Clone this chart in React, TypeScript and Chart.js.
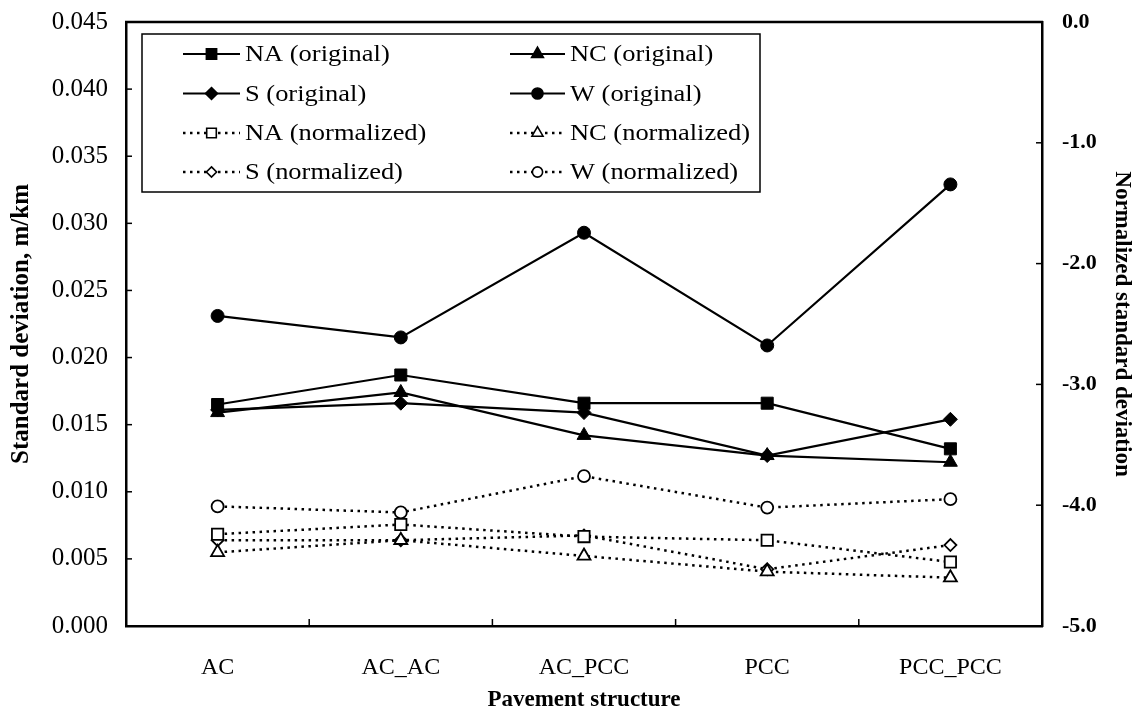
import React, { useEffect, useRef } from "react";
import { Chart, registerables } from "chart.js";

Chart.register(...registerables);

const categories = ["AC", "AC_AC", "AC_PCC", "PCC", "PCC_PCC"];
const naOriginal = [0.0165, 0.0187, 0.0166, 0.0166, 0.0132];
const ncOriginal = [0.0159, 0.0174, 0.0142, 0.0127, 0.0122];
const sOriginal = [0.0161, 0.0166, 0.0159, 0.0127, 0.0154];
const wOriginal = [0.0231, 0.0215, 0.0293, 0.0209, 0.0329];
const naNormalized = [-4.24, -4.16, -4.26, -4.29, -4.47];
const ncNormalized = [-4.39, -4.29, -4.42, -4.55, -4.6];
const sNormalized = [-4.29, -4.29, -4.25, -4.53, -4.33];
const wNormalized = [-4.01, -4.06, -3.76, -4.02, -3.95];

const leftTicks = { min: 0, max: 0.045, step: 0.005 };
const rightTicks = { min: -5, max: 0, step: 1 };

const SERIF = "'Liberation Serif', 'Times New Roman', serif";

function drawMarker(ctx: CanvasRenderingContext2D, style: string, x: number, y: number, r: number, filled: boolean) {
  ctx.save();
  ctx.beginPath();
  if (style === "rect") {
    const s = r * Math.SQRT1_2;
    ctx.rect(x - s, y - s, 2 * s, 2 * s);
  } else if (style === "triangle") {
    for (let i = 0; i < 3; i++) {
      const a = (i * 2 * Math.PI) / 3;
      const px = x + Math.sin(a) * r;
      const py = y - Math.cos(a) * r;
      if (i === 0) ctx.moveTo(px, py);
      else ctx.lineTo(px, py);
    }
    ctx.closePath();
  } else if (style === "rectRot") {
    ctx.moveTo(x, y - r);
    ctx.lineTo(x + r, y);
    ctx.lineTo(x, y + r);
    ctx.lineTo(x - r, y);
    ctx.closePath();
  } else {
    ctx.arc(x, y, r, 0, Math.PI * 2);
  }
  ctx.fillStyle = filled ? "#000" : "#fff";
  ctx.fill();
  ctx.lineWidth = 1.6;
  ctx.strokeStyle = "#000";
  ctx.setLineDash([]);
  ctx.stroke();
  ctx.restore();
}

const framePlugin = {
  id: "frameAndLegend",
  afterDraw(chart: any) {
    const ctx: CanvasRenderingContext2D = chart.ctx;
    const { left, right, top, bottom } = chart.chartArea;
    ctx.save();
    ctx.strokeStyle = "#000";
    ctx.lineWidth = 2.5;
    ctx.setLineDash([]);
    // top border
    ctx.beginPath();
    ctx.moveTo(left - 1, top);
    ctx.lineTo(right + 1, top);
    ctx.stroke();
    // inner ticks
    ctx.lineWidth = 1.5;
    const y = chart.scales.y;
    y.ticks.forEach((t: any) => {
      const py = y.getPixelForValue(t.value);
      ctx.beginPath();
      ctx.moveTo(left, py);
      ctx.lineTo(left + 6, py);
      ctx.stroke();
    });
    const y1 = chart.scales.y1;
    y1.ticks.forEach((t: any) => {
      const py = y1.getPixelForValue(t.value);
      ctx.beginPath();
      ctx.moveTo(right, py);
      ctx.lineTo(right - 6, py);
      ctx.stroke();
    });
    const x = chart.scales.x;
    for (let i = 1; i < categories.length; i++) {
      const px = (x.getPixelForValue(i - 1) + x.getPixelForValue(i)) / 2;
      ctx.beginPath();
      ctx.moveTo(px, bottom);
      ctx.lineTo(px, bottom - 7);
      ctx.stroke();
    }

    // legend box
    const bx = 142, by = 34, bw = 618, bh = 158;
    ctx.fillStyle = "#fff";
    ctx.fillRect(bx, by, bw, bh);
    ctx.lineWidth = 1.5;
    ctx.strokeRect(bx, by, bw, bh);
    const rows = [54, 93.5, 133, 172];
    const colLine = [
      [183, 240],
      [510, 565],
    ];
    const colText = [245, 570];
    ctx.font = `23px ${SERIF}`;
    ctx.textBaseline = "middle";
    ctx.textAlign = "left";
    chart.data.datasets.forEach((ds: any, i: number) => {
      const r = rows[Math.floor(i / 2)];
      const c = i % 2;
      const [x1, x2] = colLine[c];
      ctx.save();
      ctx.strokeStyle = "#000";
      ctx.lineWidth = ds.borderWidth;
      ctx.setLineDash(ds.borderDash || []);
      ctx.beginPath();
      ctx.moveTo(x1, r);
      ctx.lineTo(x2, r);
      ctx.stroke();
      ctx.restore();
      drawMarker(ctx, ds.pointStyle, (x1 + x2) / 2, r, ds.pointRadius * 0.85, ds.pointBackgroundColor === "#000");
      ctx.save();
      ctx.fillStyle = "#000";
      ctx.translate(colText[c], r + 1);
      ctx.scale(1.15, 1);
      ctx.fillText(ds.label, 0, 0);
      ctx.restore();
    });
    ctx.restore();
  },
};

function solid(label: string, data: number[], style: string, radius: number) {
  return {
    label,
    data,
    yAxisID: "y",
    borderColor: "#000",
    borderWidth: 2.2,
    pointStyle: style,
    pointRadius: radius,
    pointBackgroundColor: "#000",
    pointBorderColor: "#000",
    pointBorderWidth: 1,
    tension: 0,
    fill: false,
  };
}

function dotted(label: string, data: number[], style: string, radius: number) {
  return {
    label,
    data,
    yAxisID: "y1",
    borderColor: "#000",
    borderWidth: 2.5,
    borderDash: [2.5, 4.5],
    pointStyle: style,
    pointRadius: radius,
    pointBackgroundColor: "#fff",
    pointBorderColor: "#000",
    pointBorderWidth: 1.8,
    tension: 0,
    fill: false,
  };
}

export default function App() {
  const ref = useRef<HTMLCanvasElement | null>(null);
  useEffect(() => {
    if (!ref.current) return;
    const chart = new Chart(ref.current, {
      type: "line",
      data: {
        labels: categories,
        datasets: [
          solid("NA (original)", naOriginal, "rect", 8.5),
          solid("NC (original)", ncOriginal, "triangle", 8),
          solid("S (original)", sOriginal, "rectRot", 7),
          solid("W (original)", wOriginal, "circle", 6.5),
          dotted("NA (normalized)", naNormalized, "rect", 8),
          dotted("NC (normalized)", ncNormalized, "triangle", 7.5),
          dotted("S (normalized)", sNormalized, "rectRot", 6),
          dotted("W (normalized)", wNormalized, "circle", 6),
        ] as any,
      },
      options: {
        animation: false,
        responsive: false,
        layout: { padding: { top: 22, left: 0, right: 0, bottom: 0 } },
        plugins: { legend: { display: false }, tooltip: { enabled: false } },
        scales: {
          x: {
            type: "category",
            offset: true,
            grid: { display: false, drawTicks: false },
            border: { display: true, color: "#000", width: 2.5 },
            ticks: { color: "#000", font: { family: SERIF, size: 24 }, padding: 27, maxRotation: 0 },
            title: {
              display: true,
              text: "Pavement structure",
              color: "#000",
              font: { family: SERIF, size: 23, weight: "bold" },
              padding: { top: 0, bottom: 3 },
            },
            afterFit: (s: any) => {
              s.height = 91;
              s.paddingLeft = 0;
              s.paddingRight = 0;
            },
          },
          y: {
            position: "left",
            min: leftTicks.min,
            max: leftTicks.max,
            grid: { display: false, drawTicks: false },
            border: { display: true, color: "#000", width: 2.5 },
            ticks: {
              stepSize: leftTicks.step,
              color: "#000",
              font: { family: SERIF, size: 25 },
              padding: 18,
              callback: (v: any) => Number(v).toFixed(3),
            },
            title: {
              display: true,
              text: "Standard deviation, m/km",
              color: "#000",
              font: { family: SERIF, size: 25, weight: "bold" },
              padding: { top: 7, bottom: 0 },
            },
            afterFit: (s: any) => {
              s.width = 126;
              s.paddingTop = 0;
              s.paddingBottom = 0;
            },
          },
          y1: {
            position: "right",
            min: rightTicks.min,
            max: rightTicks.max,
            grid: { display: false, drawTicks: false },
            border: { display: true, color: "#000", width: 2.5 },
            ticks: {
              stepSize: rightTicks.step,
              color: "#000",
              font: { family: SERIF, size: 22, weight: "bold" },
              padding: 20,
              callback: (v: any) => Number(v).toFixed(1),
            },
            title: {
              display: true,
              text: "Normalized standard deviation",
              color: "#000",
              font: { family: SERIF, size: 23, weight: "bold" },
              padding: { top: 12, bottom: 0 },
            },
            afterFit: (s: any) => {
              s.width = 106;
              s.paddingTop = 0;
              s.paddingBottom = 0;
            },
          },
        },
      } as any,
      plugins: [framePlugin],
    });
    return () => chart.destroy();
  }, []);
  return (
    <div style={{ position: "fixed", left: 0, top: 0, width: 1148, height: 717, background: "#fff" }}>
      <canvas ref={ref} width={1148} height={717} style={{ display: "block" }} />
    </div>
  );
}
